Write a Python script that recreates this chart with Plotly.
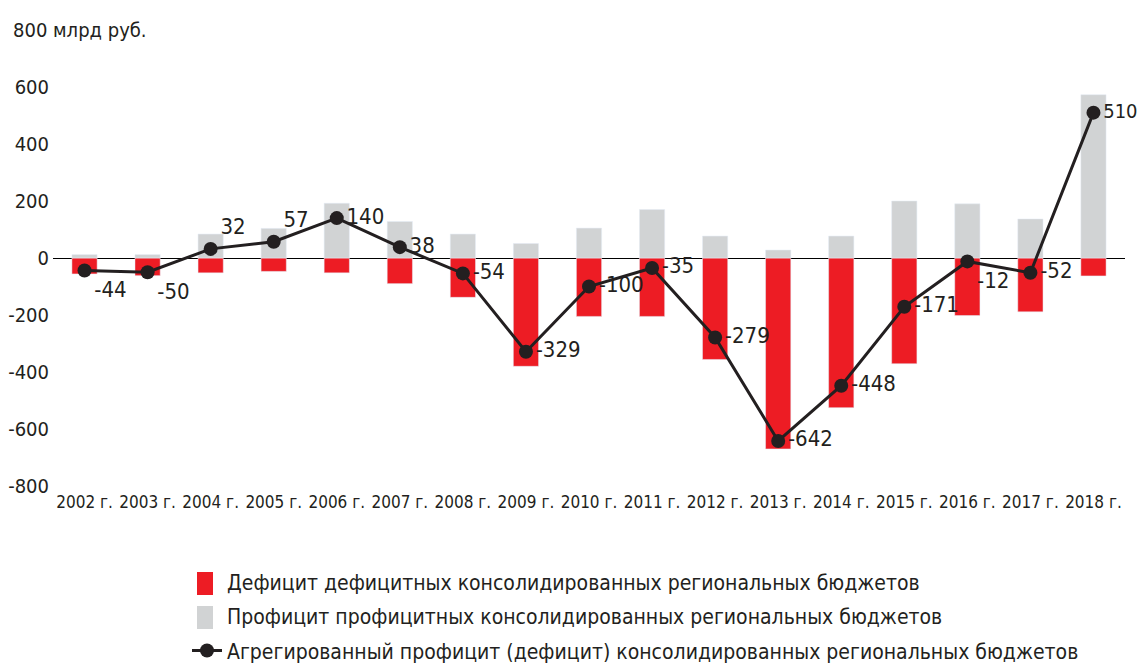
import plotly.graph_objects as go

years = ["2002 г.", "2003 г.", "2004 г.", "2005 г.", "2006 г.", "2007 г.", "2008 г.", "2009 г.",
         "2010 г.", "2011 г.", "2012 г.", "2013 г.", "2014 г.", "2015 г.", "2016 г.", "2017 г.", "2018 г."]
deficit = [-56, -62, -52, -47, -52, -90, -138, -380, -205, -205, -356, -670, -525, -371, -202, -189, -63]
surplus = [12, 12, 84, 104, 192, 128, 84, 51, 105, 170, 77, 28, 77, 200, 190, 137, 573]
aggregate = [-44, -50, 32, 57, 140, 38, -54, -329, -100, -35, -279, -642, -448, -171, -12, -52, 510]
label_pos = ["bottom right", "bottom right", "top right", "top right", "middle right", "middle right",
             "middle right", "middle right", "middle right", "middle right", "middle right", "middle right",
             "middle right", "middle right", "bottom right", "middle right", "middle right"]
label_size = [22] * 16 + [20]
y_ticks = [-800, -600, -400, -200, 0, 200, 400, 600, 800]
y_ticktext = ["-800", "-600", "-400", "-200", "0", "200", "400", "600", ""]

names = ["Дефицит дефицитных консолидированных региональных бюджетов",
         "Профицит профицитных консолидированных региональных бюджетов",
         "Агрегированный профицит (дефицит) консолидированных региональных бюджетов"]

FONT = "Liberation Sans Narrow, DejaVu Sans Condensed, Arial Narrow, sans-serif"
TXT = "#231f20"
RED = "#ed1c24"
GREY = "#d1d3d4"

# plot area in page pixels (page body margin removed below)
PL, PT, PW, PH = 53, 30, 1072, 456


def px_to_paper(x, y):
    return (x - PL) / PW, (PT + PH - y) / PH


fig = go.Figure()
fig.add_trace(go.Bar(x=years, y=deficit, name=names[0], marker_color=RED, width=0.4, showlegend=False))
fig.add_trace(go.Bar(x=years, y=surplus, name=names[1], marker_color=GREY, width=0.4, showlegend=False))
# legend-only entries; swatches drawn as tall rectangles below
for i, nm in enumerate(names[:2]):
    fig.add_trace(go.Scatter(x=[None], y=[None], name=nm, mode="markers", legendgroup=f"g{i}",
                             marker=dict(symbol="square", size=1, color="rgba(0,0,0,0)")))
fig.add_trace(go.Scatter(x=years, y=aggregate, name=names[2], mode="lines+markers+text", legendgroup="g2",
                         line=dict(color="#231f20", width=3), marker=dict(size=14, color="#231f20"),
                         text=[str(v) for v in aggregate], textposition=label_pos, cliponaxis=False,
                         textfont=dict(size=label_size, color=TXT, family=FONT)))

shapes = []
for col, (y0, y1) in [(RED, (572, 595)), (GREY, (606, 629))]:
    x0p, y0p = px_to_paper(197, y0)
    x1p, y1p = px_to_paper(213, y1)
    shapes.append(dict(type="rect", xref="paper", yref="paper", x0=x0p, x1=x1p, y0=y0p, y1=y1p,
                       fillcolor=col, line=dict(width=0), layer="above"))

fig.update_layout(
    width=1142, height=664,
    barmode="relative",
    plot_bgcolor="white", paper_bgcolor="white",
    margin=dict(l=53, r=17, t=30, b=178, autoexpand=False),
    font=dict(family=FONT, size=21, color=TXT),
    showlegend=True,
    legend=dict(x=0.125, y=-0.166, xanchor="left", yanchor="top", orientation="v",
                font=dict(size=21, color=TXT, family=FONT), traceorder="grouped",
                itemsizing="trace", tracegroupgap=4, bgcolor="rgba(0,0,0,0)"),
    xaxis=dict(range=[-0.5, 16.5], showgrid=False, showline=False, zeroline=False, ticks="",
               tickangle=0, automargin=False, tickfont=dict(size=17), ticklabelstandoff=4),
    yaxis=dict(range=[-800, 800], tickvals=y_ticks, ticktext=y_ticktext, showgrid=False,
               automargin=False, zeroline=True, zerolinecolor="black", zerolinewidth=1.2,
               showline=False, ticks="", tickfont=dict(size=20), ticklabelstandoff=3),
    shapes=shapes,
    annotations=[dict(text="800 млрд руб.", xref="paper", yref="y", x=-42 / 1072, y=800,
                      xanchor="left", yanchor="middle", showarrow=False,
                      font=dict(size=20, color=TXT, family=FONT))],
)

fig.write_html("out.html", config={"displayModeBar": False},
               post_script="document.body.style.margin='0';document.body.style.overflow='hidden';")
